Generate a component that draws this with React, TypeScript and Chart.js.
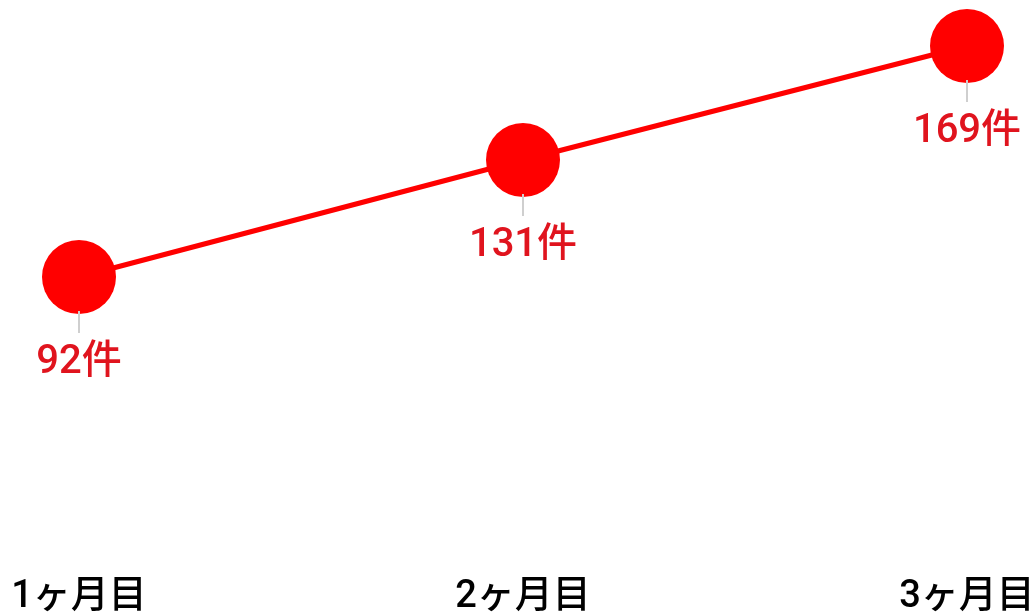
import React, { useEffect, useRef } from "react";
import { Chart, registerables } from "chart.js";

Chart.register(...registerables);

const categories = ["1ヶ月目", "2ヶ月目", "3ヶ月目"];
const values = [92, 131, 169];
const unit = "件";
const yMin = 0;
const yMax = 172;

const FONT = "Roboto, 'Noto Sans CJK JP', sans-serif";

const labelPlugin = {
  id: "pinLabels",
  afterDatasetsDraw(chart: any) {
    const ctx = chart.ctx;
    const meta = chart.getDatasetMeta(0);
    ctx.save();
    meta.data.forEach((el: any, i: number) => {
      const x = el.x;
      const y = el.y;
      const r = 36;
      ctx.strokeStyle = "#cfcfcf";
      ctx.lineWidth = 2;
      ctx.beginPath();
      ctx.moveTo(x, y + r - 2);
      ctx.lineTo(x, y + r + 20);
      ctx.stroke();
      const text = `${values[i]}${unit}`;
      ctx.font = `500 40px ${FONT}`;
      ctx.textAlign = "center";
      ctx.textBaseline = "middle";
      ctx.lineJoin = "round";
      ctx.strokeStyle = "#ffffff";
      ctx.lineWidth = 8;
      ctx.strokeText(text, x, y + 86);
      ctx.fillStyle = "#e0141e";
      ctx.fillText(text, x, y + 86);
    });
    ctx.restore();
  },
};

export default function App() {
  const ref = useRef<HTMLCanvasElement>(null);
  useEffect(() => {
    document.body.style.margin = "0";
    const chart = new Chart(ref.current!, {
      type: "line",
      data: {
        labels: categories,
        datasets: [
          {
            data: values,
            borderColor: "#ff0000",
            backgroundColor: "#ff0000",
            borderWidth: 5,
            pointRadius: 37,
            pointHoverRadius: 37,
            pointBorderWidth: 0,
            pointBackgroundColor: "#ff0000",
            clip: false,
            tension: 0,
          },
        ],
      },
      options: {
        animation: false,
        responsive: false,
        maintainAspectRatio: false,
        layout: { padding: { left: 79, right: 65, top: 13, bottom: 0 } },
        plugins: { legend: { display: false }, tooltip: { enabled: false } },
        scales: {
          x: {
            offset: false,
            grid: { display: false },
            border: { display: false },
            afterFit(scale: any) {
              scale.paddingLeft = 0;
              scale.paddingRight = 0;
              scale.height = 62;
            },
            ticks: {
              color: "#000000",
              padding: 14,
              maxRotation: 0,
              font: { size: 38, weight: "500", family: FONT },
            },
          },
          y: {
            display: false,
            min: yMin,
            max: yMax,
          },
        },
      },
      plugins: [labelPlugin],
    });
    return () => chart.destroy();
  }, []);
  return (
    <div style={{ width: 1032, height: 615 }}>
      <canvas ref={ref} width={1032} height={615} style={{ display: "block" }} />
    </div>
  );
}
